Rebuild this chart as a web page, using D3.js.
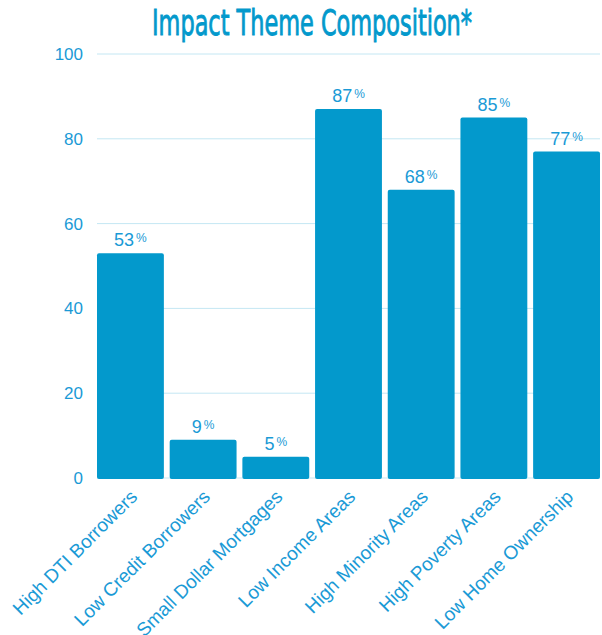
<!DOCTYPE html>
<html>
<head>
<meta charset="utf-8">
<script src="https://cdn.jsdelivr.net/npm/d3@7"></script>
<style>
  body { margin: 0; background: #fff; }
  text { font-family: "Liberation Sans", Arial, sans-serif; }
</style>
</head>
<body>
<div id="canvas"></div>
<script>
// chart data
var categories = ["High DTI Borrowers", "Low Credit Borrowers", "Small Dollar Mortgages",
    "Low Income Areas", "High Minority Areas", "High Poverty Areas", "Low Home Ownership"];
var values = [53, 9, 5, 87, 68, 85, 77];
var yTicks = [0, 20, 40, 60, 80, 100];

var width = 602;
var height = 635;
var margin = {top: 54, right: 2, bottom: 157, left: 97};
var blue = "#0399cc";
var textBlue = "#1a9ad6";

var svg = d3.select("#canvas")
    .append("svg")
    .attr("width", width)
    .attr("height", height);

// title
svg.append("text")
    .attr("x", 312)
    .attr("y", 35)
    .attr("text-anchor", "middle")
    .attr("textLength", 320)
    .attr("lengthAdjust", "spacingAndGlyphs")
    .style("font-family", "'DejaVu Sans Condensed', 'Liberation Sans Narrow', sans-serif")
    .style("font-size", "36px")
    .attr("fill", blue)
    .attr("stroke", blue)
    .attr("stroke-width", 0.9)
    .text("Impact Theme Composition*");

var x = d3.scaleBand()
    .domain(categories)
    .range([margin.left, width - margin.right])
    .paddingInner(0.08)
    .paddingOuter(0);

var y = d3.scaleLinear()
    .domain([0, 100])
    .range([height - margin.bottom, margin.top]);

// gridlines
svg.append("g")
    .selectAll("line")
    .data(yTicks)
    .enter()
    .append("line")
    .attr("x1", margin.left)
    .attr("x2", width - 2)
    .attr("y1", function(d) { return y(d); })
    .attr("y2", function(d) { return y(d); })
    .attr("stroke", "#c4e7f3")
    .attr("stroke-width", 1);

// y axis labels
var yAxis = d3.axisLeft(y).tickValues(yTicks).tickSize(0).tickPadding(14);
var yg = svg.append("g")
    .attr("transform", "translate(" + margin.left + ",0)")
    .call(yAxis);
yg.select(".domain").remove();
yg.selectAll("text")
    .style("font-size", "17px")
    .attr("fill", textBlue);

// bars
svg.append("g")
    .selectAll("rect")
    .data(values)
    .enter()
    .append("rect")
    .attr("x", function(d, i) { return x(categories[i]); })
    .attr("y", function(d) { return y(d); })
    .attr("width", x.bandwidth())
    .attr("height", function(d) { return y(0) - y(d) + 1; })
    .attr("rx", 2)
    .attr("fill", blue);

// value labels with small raised percent sign
var labels = svg.append("g")
    .selectAll("text")
    .data(values)
    .enter()
    .append("text")
    .attr("x", function(d, i) { return x(categories[i]) + x.bandwidth() / 2; })
    .attr("y", function(d) { return y(d) - 7; })
    .attr("text-anchor", "middle")
    .attr("fill", textBlue);
labels.append("tspan")
    .style("font-size", "18px")
    .text(function(d) { return d; });
labels.append("tspan")
    .attr("dx", 2)
    .attr("dy", -4)
    .style("font-size", "12px")
    .text("%");

// x axis labels, rotated
svg.append("g")
    .selectAll("text")
    .data(categories)
    .enter()
    .append("text")
    .attr("transform", function(d) {
        var cx = x(d) + x.bandwidth() / 2 + 8;
        return "translate(" + cx + "," + 498 + ") rotate(-45)";
    })
    .attr("text-anchor", "end")
    .style("font-size", "19px")
    .attr("fill", textBlue)
    .text(function(d) { return d; });
</script>
</body>
</html>
